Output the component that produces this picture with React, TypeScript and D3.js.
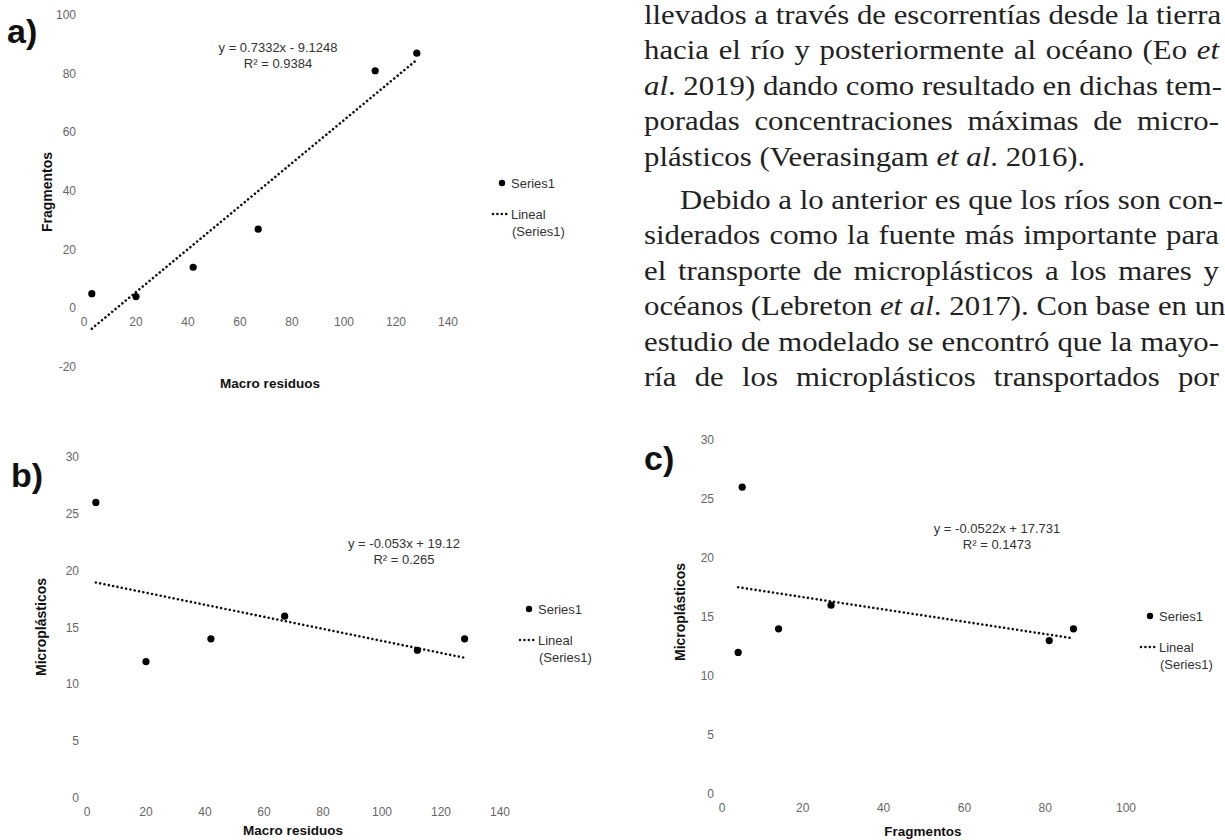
import React, { useLayoutEffect, useRef, useState } from "react";
import * as d3 from "d3";

// Sampled river stations: macro debris, fragments and microplastics counts
const macroResiduos = [3, 20, 42, 67, 112, 128];
const fragmentos = [5, 4, 14, 27, 81, 87];
const microplasticos = [26, 12, 14, 16, 13, 14];

const ticksMacro = [0, 20, 40, 60, 80, 100, 120, 140];
const ticksFragY = [-20, 0, 20, 40, 60, 80, 100];
const ticksMicroY = [0, 5, 10, 15, 20, 25, 30];
const ticksFragX = [0, 20, 40, 60, 80, 100];

// Linear fits as reported on each panel
const fitA = { slope: 0.7332, intercept: -9.1248, r2: 0.9384 };
const fitB = { slope: -0.053, intercept: 19.12, r2: 0.265 };
const fitC = { slope: -0.0522, intercept: 17.731, r2: 0.1473 };

const seriesName = "Series1";
const trendNameLines = ["Lineal", "(Series1)"];

// Body text set beside the figures
type Seg = { t: string; i?: boolean };
const paragraphLines: { segs: Seg[]; indent?: boolean; last?: boolean }[] = [
  { segs: [{ t: "llevados a través de escorrentías desde la tierra" }] },
  { segs: [{ t: "hacia el río y posteriormente al océano (Eo " }, { t: "et", i: true }] },
  { segs: [{ t: "al", i: true }, { t: ". 2019) dando como resultado en dichas tem-" }] },
  { segs: [{ t: "poradas concentraciones máximas de micro-" }] },
  { segs: [{ t: "plásticos (Veerasingam " }, { t: "et al", i: true }, { t: ". 2016)." }], last: true },
  { segs: [{ t: "Debido a lo anterior es que los ríos son con-" }], indent: true },
  { segs: [{ t: "siderados como la fuente más importante para" }] },
  { segs: [{ t: "el transporte de microplásticos a los mares y" }] },
  { segs: [{ t: "océanos (Lebreton " }, { t: "et al", i: true }, { t: ". 2017). Con base en un" }] },
  { segs: [{ t: "estudio de modelado se encontró que la mayo-" }] },
  { segs: [{ t: "ría de los microplásticos transportados por" }] },
];

type Fit = { slope: number; intercept: number; r2: number };

const eqText = (f: Fit) =>
  `y = ${f.slope}x ${f.intercept < 0 ? "-" : "+"} ${Math.abs(f.intercept)}`;
const r2Text = (f: Fit) => `R² = ${f.r2}`;

const panels = [
  {
    key: "a",
    label: "a)",
    labelPos: [7, 43],
    xs: macroResiduos,
    ys: fragmentos,
    xDomain: [0, 140],
    xRange: [84, 448],
    yDomain: [-20, 100],
    yRange: [367, 15],
    xTicks: ticksMacro,
    yTicks: ticksFragY,
    xTitle: "Macro residuos",
    xTitlePos: [270, 388],
    yTitle: "Fragmentos",
    yTitlePos: [47, 192],
    fit: fitA,
    eqPos: [278, 52],
    legendPos: [502, 183],
  },
  {
    key: "b",
    label: "b)",
    labelPos: [11, 487],
    xs: macroResiduos,
    ys: microplasticos,
    xDomain: [0, 140],
    xRange: [87, 500],
    yDomain: [0, 30],
    yRange: [798, 457],
    xTicks: ticksMacro,
    yTicks: ticksMicroY,
    xTitle: "Macro residuos",
    xTitlePos: [293, 835],
    yTitle: "Microplásticos",
    yTitlePos: [41, 627],
    fit: fitB,
    eqPos: [404, 548],
    legendPos: [529, 609],
  },
  {
    key: "c",
    label: "c)",
    labelPos: [644, 470],
    xs: fragmentos,
    ys: microplasticos,
    xDomain: [0, 100],
    xRange: [722, 1126],
    yDomain: [0, 30],
    yRange: [794, 440],
    xTicks: ticksFragX,
    yTicks: ticksMicroY,
    xTitle: "Fragmentos",
    xTitlePos: [923, 836],
    yTitle: "Microplásticos",
    yTitlePos: [680, 612],
    fit: fitC,
    eqPos: [997, 533],
    legendPos: [1150, 616],
  },
];

const SANS = "'Liberation Sans', Arial, sans-serif";
const SERIF = "'Liberation Serif', 'Times New Roman', serif";
const DOTS = { stroke: "#111", strokeWidth: 2.6, strokeDasharray: "0.01 4.4", strokeLinecap: "round" as const };

function ScatterPanel({ p }: { p: (typeof panels)[number] }) {
  const x = d3.scaleLinear().domain(p.xDomain).range(p.xRange);
  const y = d3.scaleLinear().domain(p.yDomain).range(p.yRange);
  const y0 = y(0);
  const x0 = x(0);

  const [xmin, xmax] = d3.extent(p.xs) as [number, number];
  const trend = d3
    .line<number>()
    .x((v) => x(v))
    .y((v) => y(p.fit.slope * v + p.fit.intercept))([xmin, xmax]);

  const [lx, ly] = p.legendPos;

  return (
    <g fontFamily={SANS}>
      <text x={p.labelPos[0]} y={p.labelPos[1]} fontSize={34} fontWeight="bold" fill="#111">
        {p.label}
      </text>

      {p.yTicks.map((t) => (
        <text key={"y" + t} x={x0 - 8} y={y(t) + 4} fontSize={12} fill="#666" textAnchor="end">
          {t}
        </text>
      ))}
      {p.xTicks.map((t) => (
        <text key={"x" + t} x={x(t)} y={y0 + 18} fontSize={12} fill="#666" textAnchor="middle">
          {t}
        </text>
      ))}

      <text x={p.xTitlePos[0]} y={p.xTitlePos[1]} fontSize={13.5} fontWeight="bold" fill="#111" textAnchor="middle">
        {p.xTitle}
      </text>
      <text
        transform={`translate(${p.yTitlePos[0]},${p.yTitlePos[1]}) rotate(-90)`}
        dy="0.35em"
        fontSize={14}
        fontWeight="bold"
        fill="#111"
        textAnchor="middle"
      >
        {p.yTitle}
      </text>

      <path d={trend ?? ""} fill="none" {...DOTS} />
      {p.xs.map((v, i) => (
        <circle key={i} cx={x(v)} cy={y(p.ys[i])} r={3.6} fill="#000" />
      ))}

      <text x={p.eqPos[0]} y={p.eqPos[1]} fontSize={13} fill="#333" textAnchor="middle">
        {eqText(p.fit)}
      </text>
      <text x={p.eqPos[0]} y={p.eqPos[1] + 16} fontSize={13} fill="#333" textAnchor="middle">
        {r2Text(p.fit)}
      </text>

      <circle cx={lx} cy={ly} r={3.2} fill="#000" />
      <text x={lx + 9} y={ly + 4.5} fontSize={13} fill="#333">
        {seriesName}
      </text>
      <line x1={lx - 9} x2={lx + 6} y1={ly + 31} y2={ly + 31} {...DOTS} />
      <text x={lx + 9} y={ly + 35.5} fontSize={13} fill="#333">
        {trendNameLines[0]}
      </text>
      <text x={lx + 10} y={ly + 52.5} fontSize={13} fill="#333">
        {trendNameLines[1]}
      </text>
    </g>
  );
}

// Justified column: the face is widened a little, then word spacing
// is opened so each full line meets the right margin
function BodyText() {
  const left = 644;
  const right = 1219;
  const widen = 1.12;
  const indent = 36;
  const pitch = 35.5;
  const firstBase = [24, 209];
  const refs = useRef<(SVGTextElement | null)[]>([]);
  const [wordSpacing, setWordSpacing] = useState<number[]>([]);

  const rows = (() => {
    let para = 0;
    let row = 0;
    return paragraphLines.map((ln) => {
      if (ln.indent) {
        para = 1;
        row = 0;
      }
      const yb = firstBase[para] + row * pitch;
      row += 1;
      return { ...ln, x0: (ln.indent ? indent : 0) / widen, yb };
    });
  })();
  const measure = (right - left) / widen;

  useLayoutEffect(() => {
    const ws = rows.map((ln, i) => {
      const el = refs.current[i];
      if (!el || ln.last) return 0;
      const text = ln.segs.map((s) => s.t).join("");
      const spaces = (text.match(/ /g) || []).length;
      const natural = el.getComputedTextLength();
      return spaces ? Math.max(0, (measure - ln.x0 - natural) / spaces) : 0;
    });
    setWordSpacing(ws);
  }, []);

  return (
    <g transform={`translate(${left},0) scale(${widen},1)`} fontFamily={SERIF} fontSize={27.5} fill="#222">
      {rows.map((ln, i) => (
        <text
          key={i}
          ref={(el) => {
            refs.current[i] = el;
          }}
          x={ln.x0}
          y={ln.yb}
          style={{ wordSpacing: `${wordSpacing[i] ?? 0}px` }}
        >
          {ln.segs.map((s, j) => (
            <tspan key={j} fontStyle={s.i ? "italic" : "normal"}>
              {s.t}
            </tspan>
          ))}
        </text>
      ))}
    </g>
  );
}

export default function App() {
  return (
    <svg
      width={1225}
      height={840}
      viewBox="0 0 1225 840"
      style={{ position: "absolute", left: 0, top: 0, background: "#fff" }}
    >
      <rect width={1225} height={840} fill="#fff" />
      <BodyText />
      {panels.map((p) => (
        <ScatterPanel key={p.key} p={p} />
      ))}
    </svg>
  );
}
